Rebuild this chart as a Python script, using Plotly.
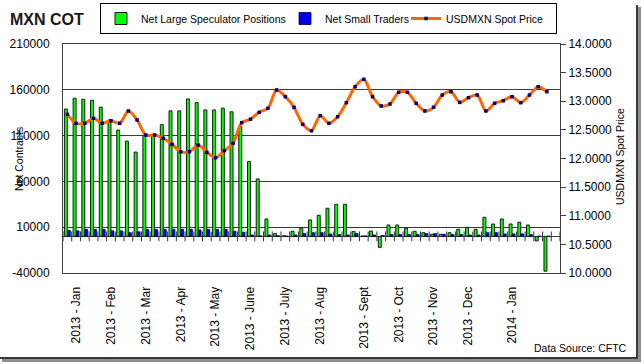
import plotly.graph_objects as go

# ---------------- data ----------------
MONTH_LABELS = ["2013 - Jan", "2013 - Feb", "2013 - Mar", "2013 - Apr", "2013 - May",
                "2013 - June", "2013 - July", "2013 - Aug", "2013 - Sept", "2013 - Oct",
                "2013 - Nov", "2013 - Dec", "2014 - Jan"]
MONTH_WEEK_INDEX = [1, 5, 9, 13, 17, 21, 25, 29, 34, 38, 42, 46, 51]

LARGE_SPEC = [139000, 150800, 149700, 148600, 141000, 127000, 116000, 104000, 92000, 110700,
              110700, 122000, 137000, 137000, 150000, 146000, 138000, 138000, 140000, 136000,
              120000, 81600, 62700, 19000, 3000, 600, 5500, 9000, 17900, 23000,
              30700, 35000, 35000, 5200, 300, 5800, -12000, 12400, 12400, 9000,
              5500, 4000, 2300, 2300, 4000, 7700, 9900, 7700, 20800, 13500,
              19000, 13500, 15400, 12400, -5000, -38000]

SMALL_TRADERS = [6500, 6000, 7500, 7500, 7500, 6000, 6000, 4000, 5000, 7500,
                 7500, 7700, 7700, 7700, 7700, 7000, 7500, 7500, 7500, 5500,
                 4500, 1500, 500, 1500, 700, 300, 1500, 3000, 4000, 4000,
                 2500, 2000, 1500, 3000, 500, 1500, 1000, 2000, 2000, 2000,
                 2000, 3000, 3000, 2300, 2000, 2000, 1500, 1500, 4000, 4000,
                 2700, 2700, 2700, 2000, 300, 200]

USDMXN = [12.772, 12.615, 12.615, 12.702, 12.615, 12.660, 12.615, 12.830, 12.673, 12.410,
          12.410, 12.353, 12.248, 12.119, 12.119, 12.236, 12.108, 12.014, 12.136, 12.265,
          12.626, 12.685, 12.807, 12.877, 13.197, 13.080, 12.894, 12.597, 12.486, 12.748,
          12.615, 12.730, 12.975, 13.254, 13.383, 13.080, 12.917, 12.952, 13.156, 13.156,
          12.964, 12.830, 12.894, 13.109, 13.167, 12.980, 13.062, 13.109, 12.830, 12.964,
          13.010, 13.080, 12.975, 13.109, 13.254, 13.167]

LEFT_TICKS = [-40000, 10000, 60000, 110000, 160000, 210000]
RIGHT_TICKS = [10.0, 10.5, 11.0, 11.5, 12.0, 12.5, 13.0, 13.5, 14.0]

# ---------------- geometry ----------------
W, H = 644, 364
ML, MR, MT, MB = 63, 84, 44, 91
PW = W - ML - MR
PH = H - MT - MB


def px(x):
    return (x - ML) / PW


def py(y):
    return 1 - (y - MT) / PH


FONT = "Arial, Liberation Sans, sans-serif"
weeks = list(range(len(LARGE_SPEC)))
n_slots = len(LARGE_SPEC) + 1
boundaries = [k - 0.5 for k in range(n_slots + 1)]

fig = go.Figure()
fig.add_trace(go.Bar(
    x=weeks, y=LARGE_SPEC, name="Net Large Speculator Positions", legendwidth=139,
    marker=dict(color="#00FF00", line=dict(color="#1a1a1a", width=1)),
))
fig.add_trace(go.Bar(
    x=weeks, y=SMALL_TRADERS, name="Net Small Traders", legendwidth=76,
    marker=dict(color="#0000EE", line=dict(color="#000055", width=0.8)),
))
fig.add_trace(go.Scatter(
    x=boundaries, y=[0] * len(boundaries), mode="markers", showlegend=False,
    hoverinfo="skip",
    marker=dict(symbol="line-ns", size=7, line=dict(color="#333333", width=1)),
))
fig.add_trace(go.Scatter(
    x=weeks, y=USDMXN, name="USDMXN Spot Price", yaxis="y2", legendwidth=105,
    mode="lines+markers",
    line=dict(color="#FF6600", width=3, shape="spline", smoothing=0.8),
    marker=dict(symbol="square", size=3.5, color="#000080"),
))

fig.update_layout(
    width=W, height=H,
    margin=dict(l=ML, r=MR, t=MT, b=MB, autoexpand=False),
    paper_bgcolor="white", plot_bgcolor="white",
    font=dict(family=FONT, color="#000000", size=12),
    barmode="group", bargap=0.32, bargroupgap=0,
    title=dict(text="<b>MXN COT</b>", x=10 / W, xanchor="left", xref="container",
               y=1 - 19 / H, yanchor="middle", yref="container",
               font=dict(family=FONT, size=16, color="#1a1a1a")),
    xaxis=dict(range=[-0.5, n_slots - 0.5], tickmode="array",
               tickvals=MONTH_WEEK_INDEX, ticktext=MONTH_LABELS, tickangle=-90,
               showgrid=False, zeroline=False, showline=True, mirror=True,
               linecolor="#404040", linewidth=1, ticks="", ticklabelstandoff=8,
               tickfont=dict(size=12)),
    yaxis=dict(range=[LEFT_TICKS[0], LEFT_TICKS[-1]], tickmode="array",
               tickvals=LEFT_TICKS, ticktext=[str(v) for v in LEFT_TICKS],
               showgrid=True, gridcolor="#3a3a3a", gridwidth=1.2,
               zeroline=True, zerolinecolor="#404040", zerolinewidth=1,
               showline=True, linecolor="#404040", linewidth=1, ticks="",
               ticklabelstandoff=10, tickfont=dict(size=12)),
    yaxis2=dict(range=[RIGHT_TICKS[0], RIGHT_TICKS[-1]], overlaying="y", side="right",
                tickmode="array", tickvals=RIGHT_TICKS,
                ticktext=[f"{v:.4f}" for v in RIGHT_TICKS],
                showgrid=False, zeroline=False, showline=True, linecolor="#404040",
                linewidth=1, ticks="outside", ticklen=5, tickcolor="#404040",
                tickfont=dict(size=12)),
    legend=dict(orientation="h", x=px(100), y=py(3), xanchor="left", yanchor="top",
                bordercolor="#000000", borderwidth=1, bgcolor="white",
                font=dict(size=10.5), traceorder="normal"),
    showlegend=True,
    hovermode=False,
    annotations=[
        dict(text="Net Contracts", x=px(11), y=py(159), xref="paper", yref="paper",
             textangle=-90, showarrow=False, font=dict(size=10.5)),
        dict(text="USDMXN Spot Price", x=px(628), y=py(157), xref="paper", yref="paper",
             textangle=-90, showarrow=False, font=dict(size=10.5)),
        dict(text="Data Source: CFTC", x=px(629), y=py(348), xref="paper", yref="paper",
             xanchor="right", yanchor="middle", showarrow=False, font=dict(size=10.5)),
    ],
    shapes=[
        dict(type="rect", xref="paper", yref="paper", x0=px(636), x1=px(638),
             y0=py(5), y1=py(359), fillcolor="#3a3a3a", line=dict(width=0)),
        dict(type="rect", xref="paper", yref="paper", x0=px(638), x1=px(641),
             y0=py(7), y1=py(362), fillcolor="#8f8f8f", line=dict(width=0)),
        dict(type="rect", xref="paper", yref="paper", x0=px(0), x1=px(638),
             y0=py(357), y1=py(359), fillcolor="#3a3a3a", line=dict(width=0)),
        dict(type="rect", xref="paper", yref="paper", x0=px(2), x1=px(641),
             y0=py(359), y1=py(362), fillcolor="#8f8f8f", line=dict(width=0)),
    ],
)

fig.write_html("out.html", config={"displayModeBar": False},
               post_script="document.body.style.margin='0';")
